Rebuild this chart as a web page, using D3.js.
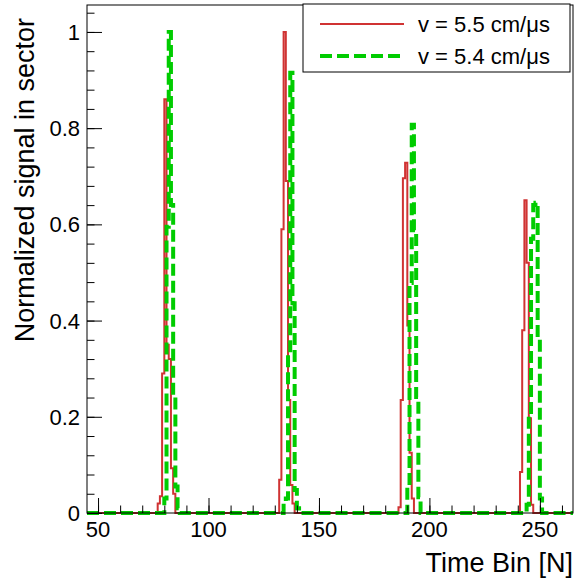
<!DOCTYPE html>
<html>
<head>
<meta charset="utf-8">
<script src="https://cdn.jsdelivr.net/npm/d3@7/dist/d3.min.js"></script>
<style>
  html, body { margin: 0; padding: 0; background: #fff; }
  svg { display: block; }
  text { font-family: "Liberation Sans", Arial, Helvetica, sans-serif; fill: #000; }
</style>
</head>
<body>
<svg id="chart" width="575" height="584"></svg>
<script>
// ---------------- data ----------------
const xRange = [45, 265];          // histogram range (bin width 1)
const yRange = [0, 1.056];

// v = 5.5 cm/us (red, solid) : non-zero bins (lower edge) and contents
const redBins   = [77, 78, 79, 80, 81, 82, 83, 84,
                   132, 133, 134, 135, 136, 137, 138,
                   186, 187, 188, 189, 190, 191, 192,
                   241, 242, 243, 244, 245, 246];
const redValues = [0.02, 0.035, 0.29, 0.86, 0.35, 0.32, 0.093, 0.04,
                   0.069, 0.59, 1.0, 0.69, 0.235, 0.058, 0.02,
                   0.012, 0.235, 0.696, 0.728, 0.39, 0.125, 0.03,
                   0.085, 0.38, 0.65, 0.52, 0.197, 0.017];

// v = 5.4 cm/us (green, dashed)
const greenBins   = [80, 81, 82, 83, 84, 85, 86,
                     134, 135, 136, 137, 138, 139, 140,
                     190, 191, 192, 193, 194, 195,
                     244, 245, 246, 247, 248, 249, 250];
const greenValues = [0.03, 0.595, 1.0, 0.64, 0.25, 0.055, 0.01,
                     0.02, 0.03, 0.33, 0.915, 0.436, 0.048, 0.01,
                     0.054, 0.478, 0.807, 0.588, 0.241, 0.033,
                     0.017, 0.21, 0.57, 0.64, 0.645, 0.363, 0.03];

const xTickValues = [50, 100, 150, 200, 250];
const yTickValues = [0, 0.2, 0.4, 0.6, 0.8, 1];
const yTickLabels = ["0", "0.2", "0.4", "0.6", "0.8", "1"];
const legendLabels = ["v = 5.5 cm/\u03BCs", "v = 5.4 cm/\u03BCs"];
const seriesColors = ["#d03333", "#00cc00"];
const xTitle = "Time Bin [N]";
const yTitle = "Normalized signal in sector";

// ---------------- layout ----------------
const frame = { left: 87, right: 573, top: 5, bottom: 513 };
const svg = d3.select("#chart");

const x = d3.scaleLinear().domain(xRange).range([frame.left, frame.right]);
const y = d3.scaleLinear().domain(yRange).range([frame.bottom, frame.top]);

function fullHist(bins, vals) {
  const n = xRange[1] - xRange[0];
  const arr = new Array(n).fill(0);
  bins.forEach((b, i) => { arr[b - xRange[0]] = vals[i]; });
  const pts = arr.map((v, i) => [xRange[0] + i, v]);
  pts.push([xRange[1], arr[n - 1]]);
  return pts;
}

svg.append("defs").append("clipPath").attr("id", "clip")
  .append("rect")
  .attr("x", frame.left).attr("y", frame.top - 2)
  .attr("width", frame.right - frame.left)
  .attr("height", frame.bottom - frame.top + 4);

const line = d3.line()
  .x(d => x(d[0]))
  .y(d => y(d[1]))
  .curve(d3.curveStepAfter);

const gPlot = svg.append("g").attr("clip-path", "url(#clip)");

gPlot.append("path")
  .datum(fullHist(redBins, redValues))
  .attr("d", line)
  .attr("fill", "none")
  .attr("stroke", seriesColors[0])
  .attr("stroke-width", 2);

gPlot.append("path")
  .datum(fullHist(greenBins, greenValues))
  .attr("d", line)
  .attr("fill", "none")
  .attr("stroke", seriesColors[1])
  .attr("stroke-width", 4)
  .attr("stroke-dasharray", "12,5");

// ---------------- frame ----------------
svg.append("rect")
  .attr("x", frame.left).attr("y", frame.top)
  .attr("width", frame.right - frame.left)
  .attr("height", frame.bottom - frame.top)
  .attr("fill", "none").attr("stroke", "#000").attr("stroke-width", 1);

// ---------------- axes (ticks inside, ROOT style) ----------------
const xMinor = d3.range(50, 265, 10);
const xAxis = d3.axisTop(x).tickValues(xTickValues).tickSize(15).tickFormat("");
const xAxisMinor = d3.axisTop(x).tickValues(xMinor).tickSize(7.5).tickFormat("");
const gx = svg.append("g").attr("transform", `translate(0,${frame.bottom})`);
gx.call(xAxis);
gx.append("g").call(xAxisMinor);
gx.selectAll(".domain").remove();
gx.selectAll("line").attr("stroke", "#000");

const yMinor = d3.range(0, 1.05, 0.04);
const yAxis = d3.axisRight(y).tickValues(yTickValues).tickSize(15).tickFormat("");
const yAxisMinor = d3.axisRight(y).tickValues(yMinor).tickSize(7.5).tickFormat("");
const gy = svg.append("g").attr("transform", `translate(${frame.left},0)`);
gy.call(yAxis);
gy.append("g").call(yAxisMinor);
gy.selectAll(".domain").remove();
gy.selectAll("line").attr("stroke", "#000");

// tick labels
svg.append("g").selectAll("text")
  .data(xTickValues).join("text")
  .attr("x", d => x(d))
  .attr("y", 537)
  .attr("text-anchor", "middle")
  .attr("font-size", 22)
  .text(d => d);

svg.append("g").selectAll("text")
  .data(yTickValues).join("text")
  .attr("x", 80)
  .attr("y", d => y(d) + 8)
  .attr("text-anchor", "end")
  .attr("font-size", 22)
  .text((d, i) => yTickLabels[i]);

// titles
svg.append("text")
  .attr("x", frame.right).attr("y", 572)
  .attr("text-anchor", "end")
  .attr("font-size", 27)
  .text(xTitle);

svg.append("text")
  .attr("transform", "translate(34,18) rotate(-90)")
  .attr("text-anchor", "end")
  .attr("font-size", 27)
  .text(yTitle);

// ---------------- legend ----------------
const lg = svg.append("g");
lg.append("rect")
  .attr("x", 303).attr("y", 4)
  .attr("width", 267).attr("height", 68)
  .attr("fill", "#fff").attr("stroke", "#000").attr("stroke-width", 1);

const entryY = [24, 56];
legendLabels.forEach((lab, i) => {
  lg.append("line")
    .attr("x1", 320).attr("x2", 404)
    .attr("y1", entryY[i]).attr("y2", entryY[i])
    .attr("stroke", seriesColors[i])
    .attr("stroke-width", i === 0 ? 2 : 4)
    .attr("stroke-dasharray", i === 0 ? null : "12,5");
  lg.append("text")
    .attr("x", 418).attr("y", entryY[i] + 8)
    .attr("font-size", 22)
    .text(lab);
});
</script>
</body>
</html>
